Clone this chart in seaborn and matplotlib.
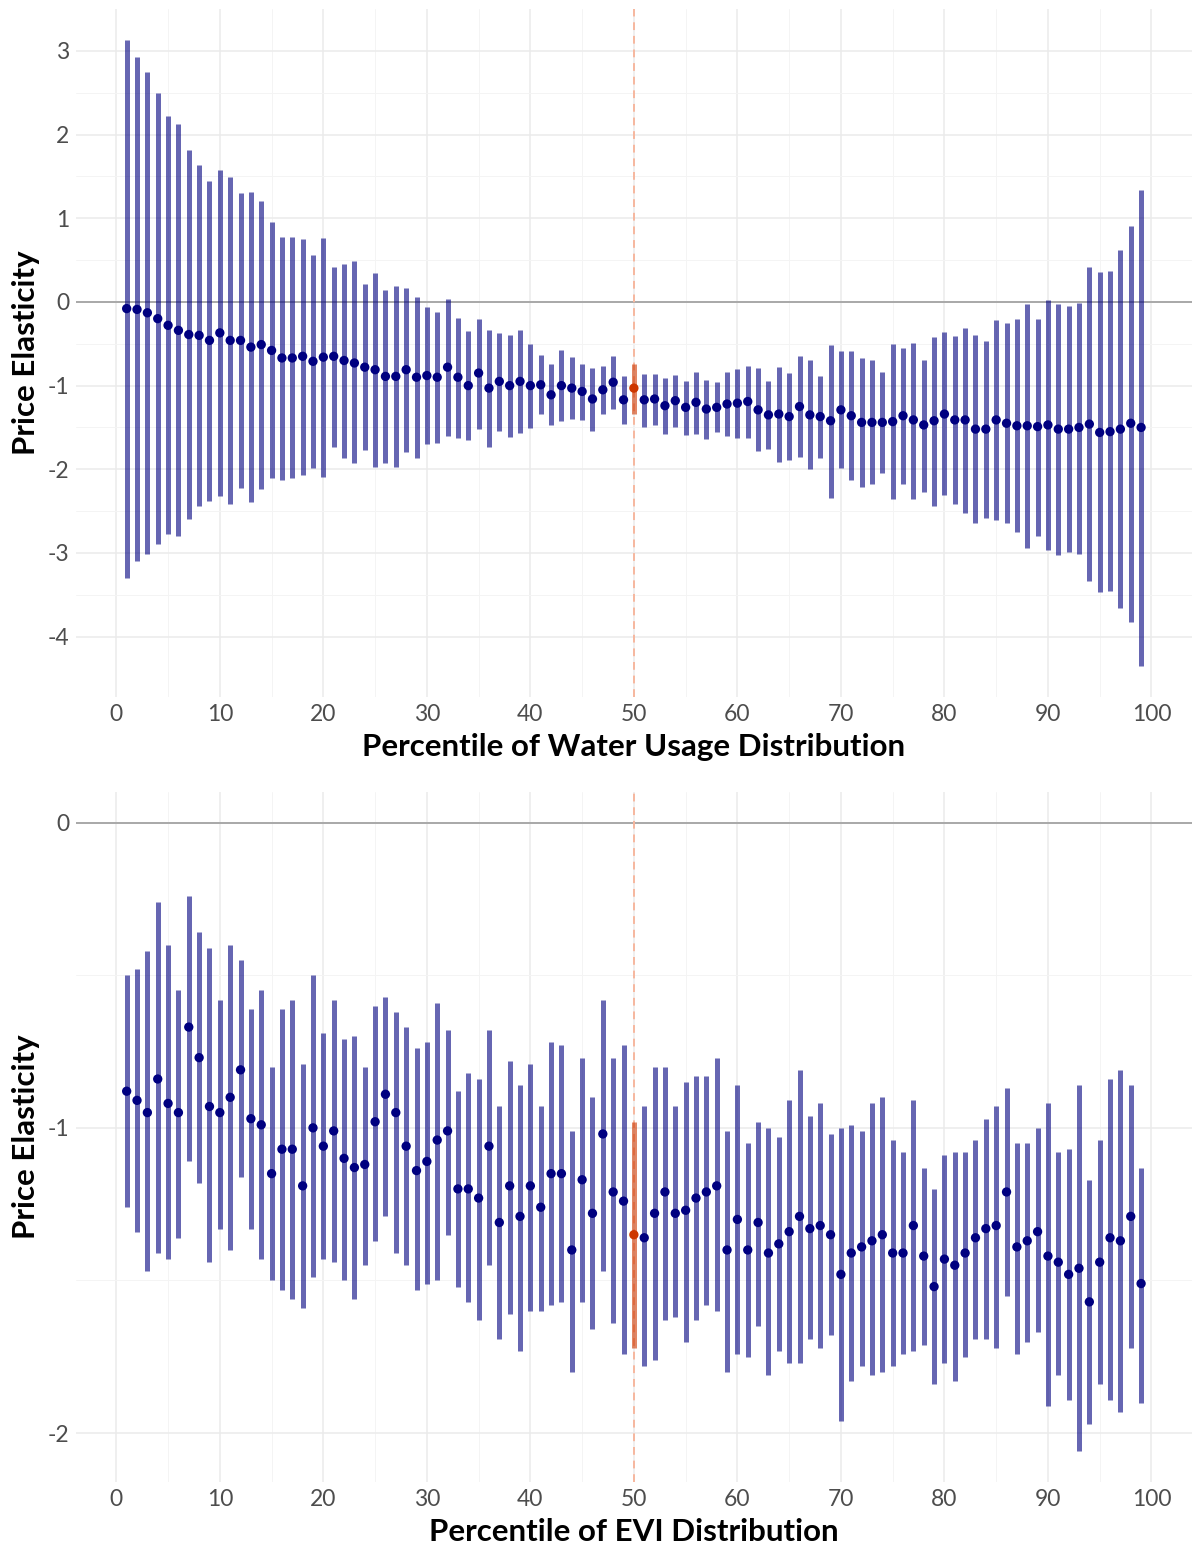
import numpy as np
import pandas as pd
import matplotlib
matplotlib.use("Agg")
import matplotlib.pyplot as plt
import seaborn as sns

pct = list(range(1, 100))

# water usage panel: point estimate, upper, lower
water_est = [-0.08, -0.09, -0.13, -0.20, -0.28, -0.34, -0.39, -0.40, -0.46, -0.37,
             -0.46, -0.46, -0.54, -0.51, -0.58, -0.67, -0.67, -0.65, -0.71, -0.66,
             -0.65, -0.70, -0.73, -0.78, -0.81, -0.89, -0.89, -0.81, -0.90, -0.88,
             -0.90, -0.78, -0.90, -1.00, -0.85, -1.03, -0.95, -1.00, -0.95, -1.00,
             -0.99, -1.11, -1.00, -1.03, -1.07, -1.16, -1.05, -0.96, -1.17, -1.03,
             -1.17, -1.16, -1.24, -1.18, -1.26, -1.20, -1.28, -1.26, -1.22, -1.21,
             -1.19, -1.29, -1.35, -1.34, -1.37, -1.25, -1.35, -1.37, -1.42, -1.29,
             -1.36, -1.44, -1.44, -1.44, -1.43, -1.36, -1.41, -1.47, -1.42, -1.34,
             -1.41, -1.41, -1.52, -1.52, -1.41, -1.45, -1.48, -1.48, -1.49, -1.47,
             -1.52, -1.52, -1.50, -1.46, -1.56, -1.55, -1.52, -1.45, -1.50]
water_hi = [3.13, 2.93, 2.75, 2.49, 2.22, 2.12, 1.81, 1.64, 1.44, 1.58,
            1.49, 1.30, 1.31, 1.21, 0.95, 0.78, 0.77, 0.75, 0.56, 0.76,
            0.42, 0.45, 0.49, 0.21, 0.35, 0.14, 0.19, 0.17, 0.06, -0.06,
            -0.12, 0.04, -0.19, -0.35, -0.20, -0.34, -0.37, -0.39, -0.33, -0.50,
            -0.63, -0.74, -0.58, -0.66, -0.74, -0.79, -0.76, -0.65, -0.89, -0.74,
            -0.86, -0.86, -0.91, -0.87, -0.94, -0.84, -0.93, -0.96, -0.84, -0.80,
            -0.76, -0.79, -0.94, -0.78, -0.85, -0.65, -0.70, -0.88, -0.51, -0.59,
            -0.59, -0.67, -0.70, -0.84, -0.50, -0.55, -0.49, -0.69, -0.42, -0.36,
            -0.41, -0.31, -0.40, -0.47, -0.22, -0.25, -0.20, -0.02, -0.20, 0.02,
            -0.03, -0.05, -0.01, 0.42, 0.36, 0.37, 0.62, 0.91, 1.34]
water_lo = [-3.30, -3.09, -3.01, -2.89, -2.77, -2.80, -2.59, -2.44, -2.38, -2.32,
            -2.41, -2.22, -2.39, -2.23, -2.11, -2.13, -2.11, -2.07, -1.99, -2.09,
            -1.73, -1.86, -1.93, -1.77, -1.97, -1.93, -1.97, -1.79, -1.86, -1.70,
            -1.69, -1.60, -1.63, -1.65, -1.52, -1.73, -1.54, -1.62, -1.57, -1.51,
            -1.34, -1.47, -1.42, -1.40, -1.41, -1.54, -1.34, -1.28, -1.46, -1.34,
            -1.50, -1.47, -1.58, -1.50, -1.59, -1.58, -1.64, -1.56, -1.60, -1.63,
            -1.63, -1.78, -1.76, -1.91, -1.89, -1.85, -2.00, -1.87, -2.34, -1.98,
            -2.13, -2.21, -2.18, -2.05, -2.35, -2.17, -2.35, -2.27, -2.44, -2.31,
            -2.42, -2.52, -2.64, -2.58, -2.61, -2.64, -2.75, -2.94, -2.80, -2.96,
            -3.02, -2.99, -3.01, -3.34, -3.47, -3.46, -3.66, -3.82, -4.35]

# EVI panel: point estimate, upper, lower
evi_est = [-0.88, -0.91, -0.95, -0.84, -0.92, -0.95, -0.67, -0.77, -0.93, -0.95,
           -0.90, -0.81, -0.97, -0.99, -1.15, -1.07, -1.07, -1.19, -1.00, -1.06,
           -1.01, -1.10, -1.13, -1.12, -0.98, -0.89, -0.95, -1.06, -1.14, -1.11,
           -1.04, -1.01, -1.20, -1.20, -1.23, -1.06, -1.31, -1.19, -1.29, -1.19,
           -1.26, -1.15, -1.15, -1.40, -1.17, -1.28, -1.02, -1.21, -1.24, -1.35,
           -1.36, -1.28, -1.21, -1.28, -1.27, -1.23, -1.21, -1.19, -1.40, -1.30,
           -1.40, -1.31, -1.41, -1.38, -1.34, -1.29, -1.33, -1.32, -1.35, -1.48,
           -1.41, -1.39, -1.37, -1.35, -1.41, -1.41, -1.32, -1.42, -1.52, -1.43,
           -1.45, -1.41, -1.36, -1.33, -1.32, -1.21, -1.39, -1.37, -1.34, -1.42,
           -1.44, -1.48, -1.46, -1.57, -1.44, -1.36, -1.37, -1.29, -1.51]
evi_hi = [-0.50, -0.48, -0.42, -0.26, -0.40, -0.55, -0.24, -0.36, -0.41, -0.58,
          -0.40, -0.45, -0.61, -0.55, -0.80, -0.61, -0.58, -0.79, -0.50, -0.69,
          -0.58, -0.71, -0.70, -0.80, -0.60, -0.57, -0.62, -0.67, -0.74, -0.72,
          -0.59, -0.68, -0.88, -0.82, -0.84, -0.68, -0.93, -0.78, -0.86, -0.79,
          -0.93, -0.72, -0.73, -1.01, -0.77, -0.90, -0.58, -0.77, -0.73, -0.98,
          -0.93, -0.80, -0.80, -0.93, -0.85, -0.83, -0.83, -0.77, -1.01, -0.86,
          -1.05, -0.98, -1.00, -1.03, -0.91, -0.81, -0.96, -0.92, -1.02, -1.00,
          -0.99, -1.01, -0.92, -0.90, -1.04, -1.08, -0.91, -1.13, -1.20, -1.09,
          -1.08, -1.08, -1.04, -0.97, -0.93, -0.87, -1.05, -1.05, -1.00, -0.92,
          -1.08, -1.07, -0.86, -1.17, -1.04, -0.84, -0.81, -0.86, -1.13]
evi_lo = [-1.26, -1.34, -1.47, -1.41, -1.43, -1.36, -1.11, -1.18, -1.44, -1.33,
          -1.40, -1.16, -1.33, -1.43, -1.50, -1.53, -1.56, -1.59, -1.49, -1.43,
          -1.44, -1.50, -1.56, -1.45, -1.37, -1.29, -1.41, -1.45, -1.53, -1.51,
          -1.50, -1.35, -1.52, -1.57, -1.63, -1.45, -1.69, -1.61, -1.73, -1.60,
          -1.60, -1.58, -1.57, -1.80, -1.57, -1.66, -1.47, -1.64, -1.74, -1.72,
          -1.78, -1.76, -1.63, -1.62, -1.70, -1.63, -1.58, -1.60, -1.80, -1.74,
          -1.75, -1.65, -1.81, -1.73, -1.77, -1.77, -1.69, -1.72, -1.68, -1.96,
          -1.83, -1.78, -1.81, -1.80, -1.78, -1.74, -1.73, -1.71, -1.84, -1.77,
          -1.83, -1.75, -1.69, -1.69, -1.72, -1.55, -1.74, -1.70, -1.67, -1.91,
          -1.81, -1.89, -2.06, -1.97, -1.84, -1.89, -1.93, -1.72, -1.90]

x_ticks = [0, 10, 20, 30, 40, 50, 60, 70, 80, 90, 100]
top_yticks = [3, 2, 1, 0, -1, -2, -3, -4]
bottom_yticks = [0, -1, -2]
median_pct = 50

NAVY = "#000080"
ORANGE = "#CD3700"

sns.set_theme(style="white")
plt.rcParams["font.family"] = ["Lato", "DejaVu Sans"]
plt.rcParams["axes.unicode_minus"] = False


def make_df(est, hi, lo):
    df = pd.DataFrame({"pct": pct, "est": est, "hi": hi, "lo": lo})
    df["median"] = df["pct"] == median_pct
    return df


def draw_panel(ax, df, yticks, xlabel):
    ax.set_xticks(np.arange(5, 100, 10), minor=True)
    ax.set_yticks(np.array(yticks[:-1]) - 0.5, minor=True)
    ax.grid(which="major", color="#EBEBEB", lw=1.1)
    ax.grid(which="minor", color="#F4F4F4", lw=0.7)
    ax.set_axisbelow(True)
    ax.axhline(0, color="#A9A9A9", lw=1.4, zorder=1)
    ax.axvline(median_pct, color="#F7B79E", lw=1.4, ls=(0, (4, 3)), zorder=1)

    rest = df[~df["median"]]
    mid = df[df["median"]]
    ax.vlines(rest["pct"], rest["lo"], rest["hi"], color=NAVY, alpha=0.6, lw=3.6, zorder=2)
    ax.vlines(mid["pct"], mid["lo"], mid["hi"], color=ORANGE, alpha=0.6, lw=3.6, zorder=2)
    sns.scatterplot(data=df, x="pct", y="est", hue="median",
                    palette={False: NAVY, True: ORANGE}, s=45, linewidth=0,
                    legend=False, ax=ax, zorder=3)

    ax.set_xticks(x_ticks)
    ax.set_yticks(yticks)
    ax.set_xlim(-3.9, 103.9)
    ax.tick_params(axis="both", length=0, labelsize=16.5, labelcolor="#4D4D4D", pad=5)
    ax.set_xlabel(xlabel, fontsize=22.5, fontweight="bold", color="black", labelpad=6)
    ax.set_ylabel("Price Elasticity", fontsize=22.5, fontweight="bold", color="black", labelpad=5)
    for s in ax.spines.values():
        s.set_visible(False)


fig = plt.figure(figsize=(11.96, 15.46), dpi=100)
ax1 = fig.add_axes([0.0635, 0.5492, 0.933, 0.445])
ax2 = fig.add_axes([0.0635, 0.0414, 0.933, 0.4463])

draw_panel(ax1, make_df(water_est, water_hi, water_lo), top_yticks,
           "Percentile of Water Usage Distribution")
ax1.set_ylim(-4.72, 3.5)

draw_panel(ax2, make_df(evi_est, evi_hi, evi_lo), bottom_yticks,
           "Percentile of EVI Distribution")
ax2.set_ylim(-2.16, 0.1)

fig.savefig("out.png", dpi=100)
